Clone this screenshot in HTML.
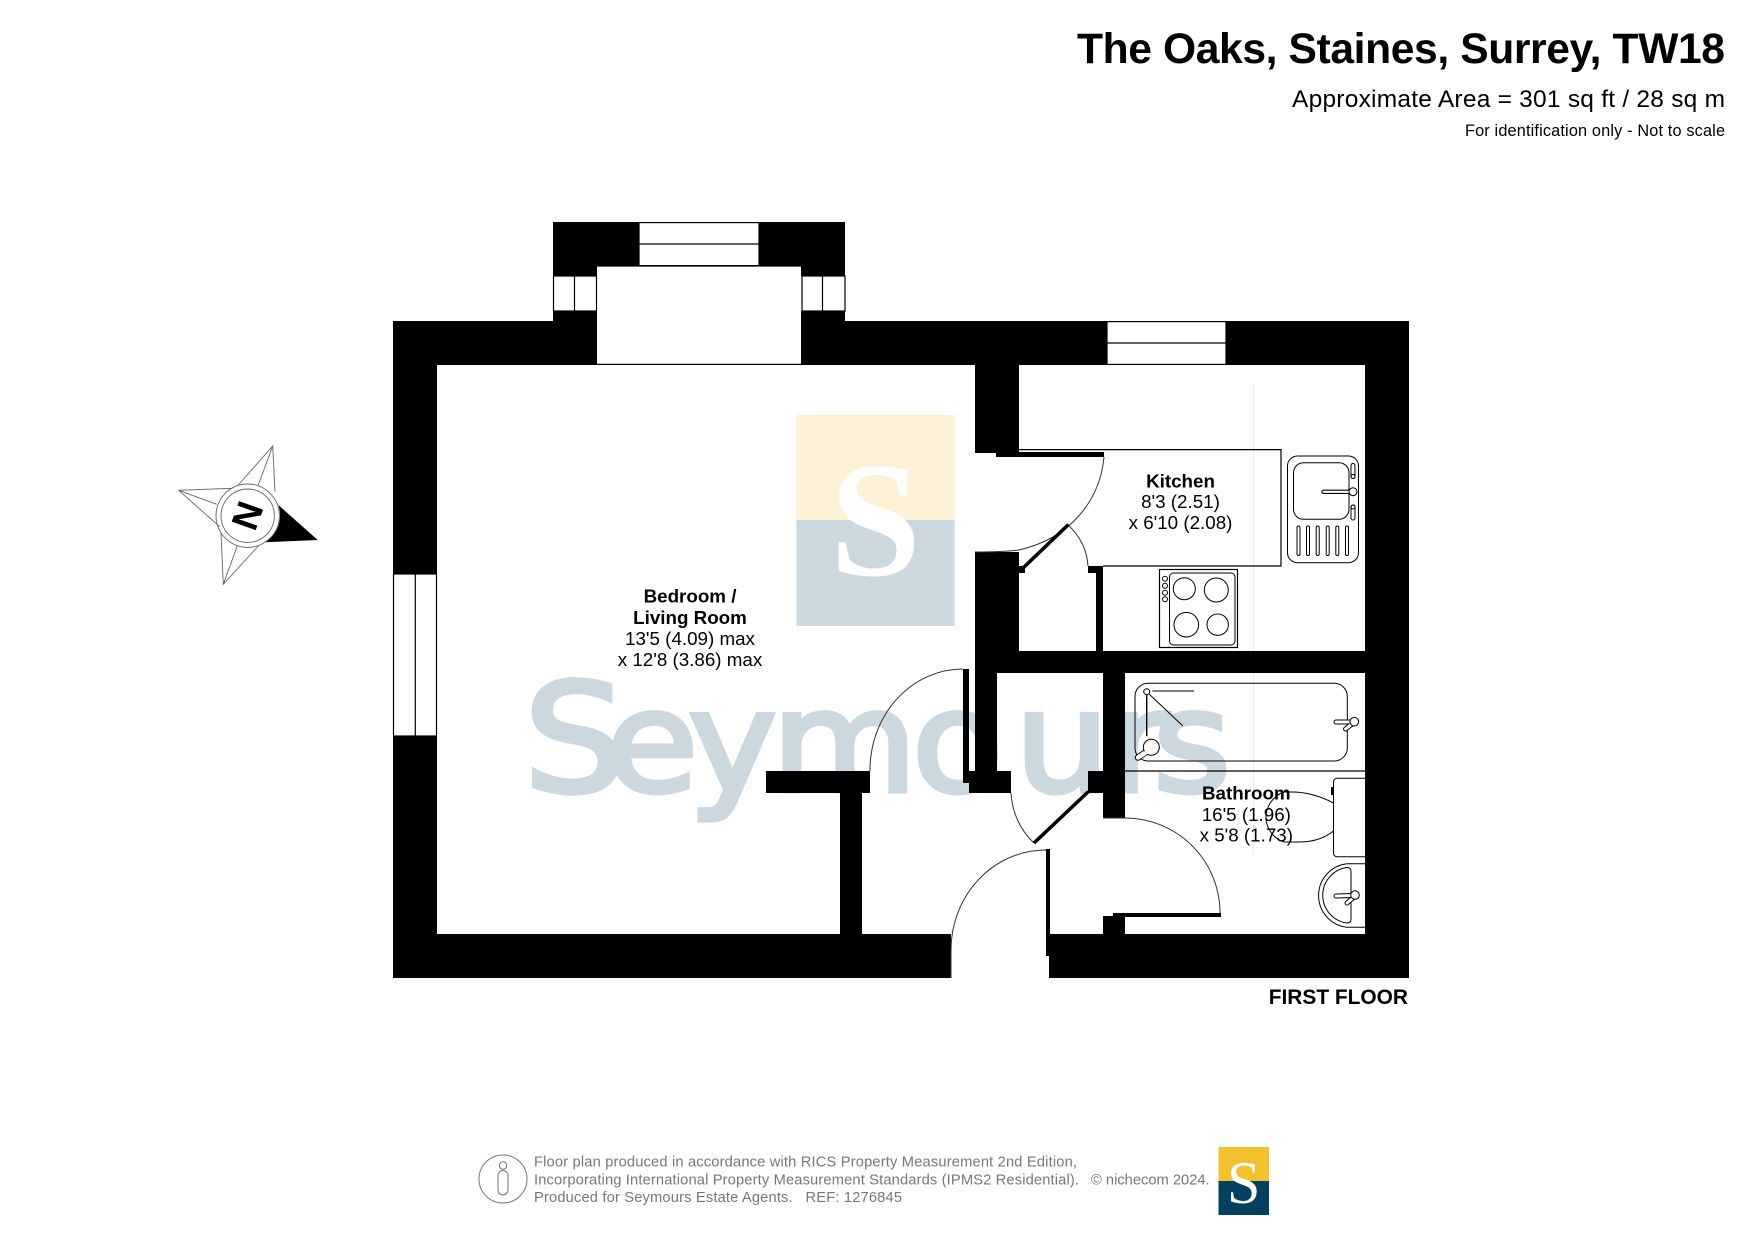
<!DOCTYPE html>
<html><head><meta charset="utf-8"><title>The Oaks floor plan</title>
<style>html,body{margin:0;padding:0;background:#fff}svg{display:block}text{font-family:"Liberation Sans",sans-serif}</style>
</head><body>
<svg xmlns="http://www.w3.org/2000/svg" width="1755" height="1241" viewBox="0 0 1755 1241">
<rect width="1755" height="1241" fill="#fff"/>
<!-- header -->
<text x="1725" y="63" text-anchor="end" font-size="42.6" font-weight="700" textLength="648" fill="#000">The Oaks, Staines, Surrey, TW18</text>
<text x="1725" y="107" text-anchor="end" font-size="24.5" textLength="433" fill="#000">Approximate Area = 301 sq ft / 28 sq m</text>
<text x="1725" y="136" text-anchor="end" font-size="16.3" textLength="260" fill="#000">For identification only - Not to scale</text>
<!-- watermark -->
<rect x="796.5" y="415" width="158" height="105" fill="#fdf2d5"/>
<rect x="796.5" y="520" width="158" height="106" fill="#cbd8e0"/>
<text x="875.5" y="575" text-anchor="middle" font-size="164" font-weight="700" fill="#fff" style="font-family:'Liberation Serif',serif">S</text>
<text transform="scale(1.07 1)" y="791" font-size="140" fill="#cbd8e0" stroke="#cbd8e0" stroke-width="5" style="font-family:'DejaVu Sans',sans-serif"><tspan x="489.5" font-size="150">S</tspan><tspan x="566.4 643.2 721 852.3 948.3 1035.5 1077.6">eymours</tspan></text>
<line x1="1253.5" y1="386" x2="1253.5" y2="853" stroke="#ecece6" stroke-width="1"/>
<!-- walls -->
<g fill="#000">
<rect x="393" y="321" width="204" height="44"/>
<rect x="801" y="321" width="306" height="44"/>
<rect x="1226" y="321" width="183" height="44"/>
<rect x="393" y="321" width="44" height="253"/>
<rect x="393" y="736" width="44" height="242"/>
<rect x="1365" y="321" width="44" height="657"/>
<rect x="553" y="222" width="86" height="44"/>
<rect x="759" y="222" width="86" height="44"/>
<rect x="553" y="266" width="44" height="10"/>
<rect x="801" y="266" width="44" height="10"/>
<rect x="553" y="311" width="44" height="10"/>
<rect x="801" y="311" width="44" height="10"/>
<rect x="975" y="365" width="44" height="88"/>
<rect x="996" y="452" width="108" height="5"/>
<rect x="975" y="552" width="44" height="99"/>
<rect x="1096" y="566" width="7" height="85"/>
<rect x="1088" y="566" width="15" height="7"/>
<rect x="1019" y="566" width="6" height="7"/>
<rect x="975" y="651" width="390" height="22"/>
<rect x="975" y="673" width="22" height="98"/>
<rect x="969" y="771" width="42" height="22"/>
<rect x="963" y="669" width="6" height="114"/>
<rect x="1088" y="771" width="37" height="22"/>
<rect x="1103" y="673" width="22" height="145"/>
<rect x="766" y="771" width="104" height="22"/>
<rect x="840" y="793" width="22" height="141"/>
<rect x="393" y="934" width="558" height="44"/>
<rect x="1049" y="934" width="360" height="44"/>
<rect x="1046" y="849" width="4" height="107"/>
<rect x="1103" y="916" width="22" height="18"/>
<rect x="1113" y="913" width="108" height="4"/>
<path d="M278.3 505 L317.7 540 L265 542.3 A31.7 31.7 0 0 0 278.3 505Z"/>
</g>
<!-- window frames -->
<g fill="#fff" stroke="#000" stroke-width="1.2">
<rect x="639" y="222.6" width="120" height="43"/>
<rect x="1107" y="321.6" width="119" height="42.8"/>
<rect x="553.5" y="276" width="43" height="35"/>
<rect x="802" y="276" width="43" height="35"/>
<rect x="393.5" y="574" width="43" height="162"/>
</g>
<g stroke="#000" stroke-width="1.2" fill="none">
<path d="M639 244H759M1107 343H1226M574.5 276V311M822.5 276V311M415.3 574V736M597 364.4H801M597 266H801"/>
<!-- counter -->
<path d="M1019 449.6H1281V566H1103"/>
<path d="M1125 771H1365"/>
</g>
<!-- doors -->
<g fill="none" stroke="#333" stroke-width="1">
<path d="M1104 457 C1100 500 1071 538 1019 550 C1005 552 990 552 975 552"/>
<path d="M1068 525 C1080 536 1087 550 1088 566"/>
<path d="M963 669 A93 101 0 0 0 870 771"/>
<path d="M1011 793 C1012 812 1020 830 1034 843"/>
<path d="M1046 850 A95 100 0 0 0 951 950V978"/>
<path d="M1103 818H1125 A95 95 0 0 1 1220 913"/>
</g>
<g stroke="#000" stroke-width="3.6" fill="none">
<line x1="1023" y1="568" x2="1068.5" y2="524.5"/>
<line x1="1088.5" y1="791.5" x2="1034" y2="843"/>
</g>
<!-- hob and sink -->
<g fill="none" stroke="#000" stroke-width="1">
<rect x="1159.5" y="569.5" width="78" height="78" stroke-width="1.2"/>
<rect x="1169.5" y="573" width="65.5" height="72" rx="4"/>
<circle cx="1184.3" cy="588.7" r="11"/><circle cx="1216.3" cy="590" r="12"/>
<circle cx="1186.3" cy="624.7" r="12.3"/><circle cx="1217.7" cy="624.7" r="10.7"/>
<circle cx="1165" cy="578.7" r="2.5"/><circle cx="1165" cy="585.7" r="2.5"/><circle cx="1165" cy="592.7" r="2.5"/><circle cx="1165" cy="599.3" r="2.5"/>
<rect x="1287.5" y="456" width="71" height="106.7" rx="10"/>
<rect x="1293.5" y="462.7" width="55.5" height="56.6" rx="10"/>
<line x1="1323.5" y1="491.8" x2="1350" y2="491.8" stroke-width="4.4" stroke-linecap="round"/>
<line x1="1323.5" y1="491.8" x2="1350" y2="491.8" stroke="#fff" stroke-width="2.2" stroke-linecap="round"/>
<circle cx="1353" cy="491.7" r="4" fill="#fff"/>
<rect x="1351" y="463.5" width="4" height="15" rx="2"/><circle cx="1353" cy="476.5" r="2"/>
<rect x="1351" y="505" width="4" height="15" rx="2"/><circle cx="1353" cy="507" r="2"/>
<rect x="1297" y="526" width="3" height="29.5" rx="1.5"/><rect x="1306.5" y="526" width="3" height="29.5" rx="1.5"/><rect x="1316.2" y="526" width="3" height="29.5" rx="1.5"/><rect x="1326.2" y="526" width="3" height="29.5" rx="1.5"/><rect x="1335.8" y="526" width="3" height="29.5" rx="1.5"/><rect x="1345.5" y="526" width="3" height="29.5" rx="1.5"/>
<!-- bath -->
<rect x="1135" y="683.3" width="212.3" height="77.7" rx="13"/>
<circle cx="1146.7" cy="691.7" r="3"/>
<path d="M1152.3 691H1194M1149.3 694.3L1182.7 725.7"/>
<path d="M1146.7 694.5V736" stroke-width="1.4"/>
<line x1="1138" y1="757.5" x2="1149" y2="750" stroke-width="6.5" stroke-linecap="round"/>
<line x1="1138" y1="757.5" x2="1149" y2="750" stroke="#fff" stroke-width="4.5" stroke-linecap="round"/>
<circle cx="1151.3" cy="747.3" r="8" fill="#fff"/>
<line x1="1147" y1="752" x2="1140" y2="756.5" stroke="#fff" stroke-width="4"/>
<g stroke-linecap="round">
<line x1="1336" y1="722" x2="1351" y2="722" stroke-width="5"/>
<line x1="1345.5" y1="729" x2="1352" y2="724" stroke-width="5"/>
<line x1="1336" y1="722" x2="1351" y2="722" stroke="#fff" stroke-width="3"/>
<line x1="1345.5" y1="729" x2="1352" y2="724" stroke="#fff" stroke-width="3"/>
</g>
<circle cx="1354.3" cy="721.7" r="4.3" fill="#fff"/>
<!-- wc -->
<rect x="1333.5" y="778.3" width="35" height="78.4" rx="3.5"/>
<path d="M1333.5 803C1320 796 1305 792 1292 792H1284C1272 796 1266 808 1266 817C1266 827 1272 838 1284 842H1298C1310 842 1322 840 1333.5 831"/>
<path d="M1332 787V795" stroke-width="2"/>
<!-- basin -->
<path d="M1365 863.7H1347A32 32 0 0 0 1347 927.3H1365"/>
<path d="M1347 867.5Q1351 867.5 1351 871.5V919Q1351 923 1347 923A28 28 0 0 1 1347 867.5Z"/>
<g stroke-linecap="round">
<line x1="1336" y1="896" x2="1352" y2="895.5" stroke-width="5"/>
<line x1="1347" y1="903" x2="1353" y2="898" stroke-width="5"/>
<line x1="1336" y1="896" x2="1352" y2="895.5" stroke="#fff" stroke-width="3"/>
<line x1="1347" y1="903" x2="1353" y2="898" stroke="#fff" stroke-width="3"/>
</g>
<circle cx="1355" cy="895" r="4.3" fill="#fff"/>
</g>
<rect x="1365" y="775" width="12" height="160" fill="#000"/>
<!-- labels -->
<g font-size="18.8" text-anchor="middle" fill="#000">
<text x="690" y="602.3" font-weight="700">Bedroom /</text>
<text x="690" y="624" font-weight="700">Living Room</text>
<text x="690" y="645">13'5 (4.09) max</text>
<text x="690" y="666">x 12'8 (3.86) max</text>
<text x="1180.5" y="487.3" font-weight="700">Kitchen</text>
<text x="1180.5" y="508">8'3 (2.51)</text>
<text x="1180.5" y="529">x 6'10 (2.08)</text>
<text x="1246.3" y="799.3" font-weight="700">Bathroom</text>
<text x="1246.3" y="821">16'5 (1.96)</text>
<text x="1246.3" y="841.7">x 5'8 (1.73)</text>
</g>
<text x="1408" y="1004" text-anchor="end" font-size="20.9" font-weight="700" fill="#000">FIRST FLOOR</text>
<!-- compass -->
<g fill="none" stroke="#666" stroke-width="0.9">
<path d="M238.3 485L272.7 446L275 491.7M272.7 446L258.3 485"/>
<path d="M231.7 488.3L178.7 490.3L219.7 526.7M178.7 490.3L216.7 504.3"/>
<path d="M221 533.3L223.3 584.3L258.3 546M223.3 584.3L237.3 546"/>
<circle cx="247.7" cy="515.7" r="31.7"/>
<circle cx="247.7" cy="515.7" r="26.7"/>
</g>
<text transform="translate(247.7 515.7) rotate(109.6)" y="13" text-anchor="middle" font-size="37" font-weight="700" fill="#000">N</text>
<!-- footer -->
<g font-size="14.7" fill="#777">
<text x="534" y="1166.7" textLength="543">Floor plan produced in accordance with RICS Property Measurement 2nd Edition,</text>
<text x="534" y="1184.7" textLength="545">Incorporating International Property Measurement Standards (IPMS2 Residential).</text>
<text x="534" y="1202" textLength="368" style="white-space:pre">Produced for Seymours Estate Agents.   REF: 1276845</text>
<text x="1091" y="1184.7">© nichecom 2024.</text>
</g>
<g fill="none" stroke="#777" stroke-width="1">
<circle cx="503" cy="1179" r="24"/>
<circle cx="503" cy="1165.5" r="3.7"/>
<rect x="498" y="1170.5" width="10" height="24.5" rx="5"/>
</g>
<rect x="1218.5" y="1147" width="50.5" height="34" fill="#f4c12e"/>
<rect x="1218.5" y="1181" width="50.5" height="34" fill="#033f5f"/>
<text x="1243.7" y="1203" text-anchor="middle" font-size="60" fill="#fff" style="font-family:'Liberation Serif',serif">S</text>
</svg>
</body></html>
